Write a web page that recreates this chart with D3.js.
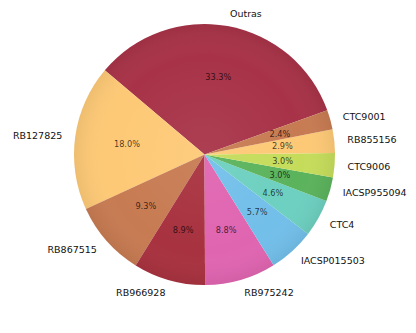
<!DOCTYPE html>
<html>
<head>
<meta charset="utf-8">
<script src="https://cdn.jsdelivr.net/npm/d3@7"></script>
<style>
  body { margin: 0; background: #fff; }
  svg { display: block; }
</style>
</head>
<body>
<div id="chart"></div>
<script>
// slice order, counterclockwise from the start angle
const labels = ["Outras", "RB127825", "RB867515", "RB966928", "RB975242", "IACSP015503",
                "CTC4", "IACSP955094", "CTC9006", "RB855156", "CTC9001"];
const shares = [33.3, 18.0, 9.3, 8.9, 8.8, 5.7, 4.6, 3.0, 3.0, 2.9, 2.4];
const colors = ["#a83348", "#fdc976", "#c77b52", "#a8323f", "#e065b1", "#72bfea",
                "#6dd0c0", "#5bb35c", "#c5dc5b", "#fdc976", "#c77b52"];

const W = 416, H = 333;
const cx = 204.5, cy = 154.5, r = 130.5;
const startDeg = 19.8; // math angle where the first slice begins

const svg = d3.select("#chart").append("svg")
    .attr("width", W).attr("height", H);

// subtle shading like the reference
const defs = svg.append("defs");
const grad = defs.append("radialGradient").attr("id", "shade")
    .attr("cx", "50%").attr("cy", "50%").attr("r", "50%");
grad.append("stop").attr("offset", "0%").attr("stop-color", "#fff").attr("stop-opacity", 0.06);
grad.append("stop").attr("offset", "75%").attr("stop-color", "#fff").attr("stop-opacity", 0);
grad.append("stop").attr("offset", "100%").attr("stop-color", "#000").attr("stop-opacity", 0.06);

const g = svg.append("g").attr("transform", `translate(${cx},${cy})`);

// d3 angles: 0 at 12 o'clock, clockwise. Counterclockwise from math angle startDeg.
const start = (90 - startDeg) * Math.PI / 180;
const pie = d3.pie().sort(null).value(d => d)
    .startAngle(start).endAngle(start - 2 * Math.PI);
const arcs = pie(shares);

const arc = d3.arc().innerRadius(0).outerRadius(r);

g.selectAll("path.slice").data(arcs).join("path")
    .attr("class", "slice")
    .attr("d", arc)
    .attr("fill", (d, i) => colors[i]);

g.append("circle").attr("r", r).attr("fill", "url(#shade)");

const mid = d => (d.startAngle + d.endAngle) / 2;

// pct labels at 0.6 r
g.selectAll("text.pct").data(arcs).join("text")
    .attr("class", "pct")
    .attr("x", d => 0.6 * r * Math.sin(mid(d)))
    .attr("y", d => -0.6 * r * Math.cos(mid(d)))
    .attr("text-anchor", "middle")
    .attr("dominant-baseline", "central")
    .attr("font-family", "DejaVu Sans")
    .attr("font-size", 8.2)
    .attr("fill", "#000").attr("fill-opacity", 0.72)
    .text((d, i) => shares[i].toFixed(1) + "%");

// category labels at 1.1 r
g.selectAll("text.lab").data(arcs).join("text")
    .attr("class", "lab")
    .attr("x", d => 1.1 * r * Math.sin(mid(d)))
    .attr("y", d => -1.1 * r * Math.cos(mid(d)))
    .attr("text-anchor", d => Math.sin(mid(d)) > 0 ? "start" : "end")
    .attr("dominant-baseline", "central")
    .attr("font-family", "DejaVu Sans")
    .attr("font-size", 9.5)
    .attr("fill", "#111")
    .text((d, i) => labels[i]);
</script>
</body>
</html>
